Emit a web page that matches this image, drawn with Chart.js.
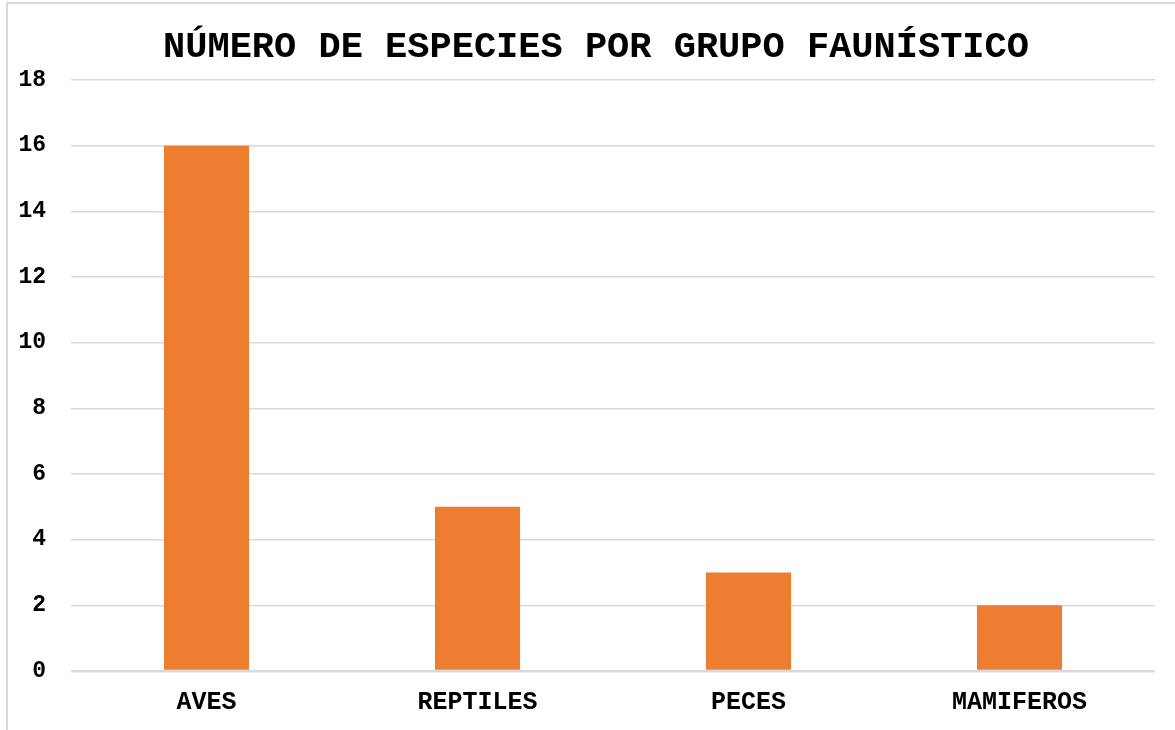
<!DOCTYPE html>
<html>
<head>
<meta charset="utf-8">
<script src="https://cdn.jsdelivr.net/npm/chart.js@4"></script>
<style>
  html, body { margin: 0; padding: 0; background: #ffffff; overflow: hidden; }
  #wrap { position: relative; width: 1175px; height: 730px; overflow: hidden; }
  #frame { position: absolute; left: 6px; top: 2px; width: 1200px; height: 760px;
           border: 2px solid #d9d9d9; box-sizing: border-box; }
  #c { position: absolute; left: 0; top: 0; }
</style>
</head>
<body>
<div id="wrap">
  <div id="frame"></div>
  <canvas id="c" width="1175" height="730"></canvas>
</div>
<script>
// Species count per faunal group
const chartTitle = 'NÚMERO DE ESPECIES POR GRUPO FAUNÍSTICO';
const groups = ['AVES', 'REPTILES', 'PECES', 'MAMIFEROS'];
const speciesCount = [16, 5, 3, 2];
const yTicks = [0, 2, 4, 6, 8, 10, 12, 14, 16, 18];

const monoFont = '"Courier New", "Liberation Mono", monospace';

// Title drawn centred above the plot
const titlePlugin = {
  id: 'topTitle',
  afterDraw(chart) {
    const ctx = chart.ctx;
    ctx.save();
    ctx.font = 'bold 37px ' + monoFont;
    ctx.fillStyle = '#000000';
    ctx.textAlign = 'center';
    ctx.textBaseline = 'alphabetic';
    ctx.fillText(chartTitle, 596, 57);
    ctx.restore();
  }
};

new Chart(document.getElementById('c'), {
  type: 'bar',
  data: {
    labels: groups,
    datasets: [{
      data: speciesCount,
      backgroundColor: '#ED7D31',
      borderWidth: 0,
      categoryPercentage: 1,
      barPercentage: 0.314
    }]
  },
  options: {
    responsive: false,
    animation: false,
    devicePixelRatio: 1,
    layout: { padding: { top: 80, right: 20, bottom: 0, left: 0 } },
    plugins: {
      legend: { display: false },
      title: { display: false },
      tooltip: { enabled: false }
    },
    scales: {
      x: {
        grid: { display: false, drawTicks: false },
        border: { display: false },
        ticks: {
          color: '#000000',
          font: { family: monoFont, size: 25, weight: 'bold' },
          padding: 17,
          maxRotation: 0
        },
        afterFit(scale) { scale.height = 59; }
      },
      y: {
        min: 0,
        max: 18,
        afterBuildTicks(scale) { scale.ticks = yTicks.map(v => ({ value: v })); },
        grid: {
          color: '#d9d9d9',
          lineWidth: ctx => (ctx.tick && ctx.tick.value === 0 ? 2.5 : 1.5),
          drawTicks: false
        },
        border: { display: false },
        ticks: {
          color: '#000000',
          font: { family: monoFont, size: 23, weight: 'bold' },
          padding: 25
        },
        afterFit(scale) { scale.width = 71; }
      }
    }
  },
  plugins: [titlePlugin]
});
</script>
</body>
</html>
